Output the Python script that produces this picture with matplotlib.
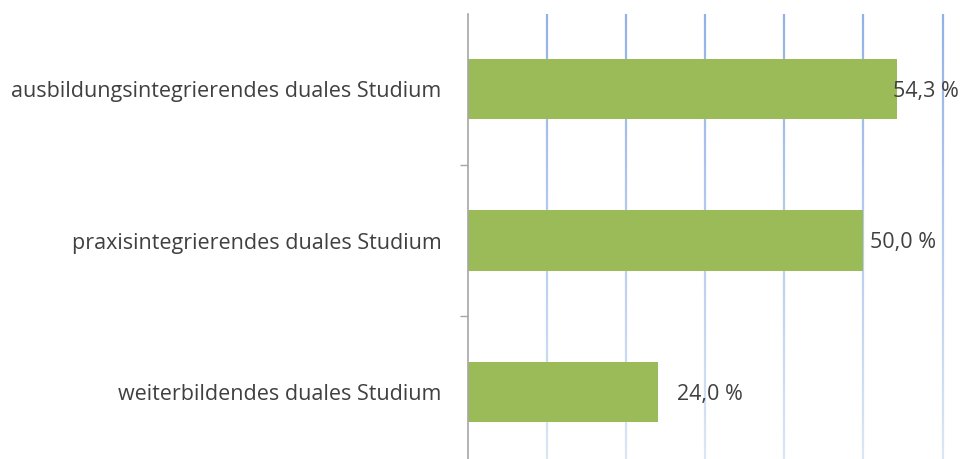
import matplotlib
matplotlib.use("Agg")
import matplotlib.pyplot as plt
import numpy as np
from matplotlib.collections import LineCollection
from matplotlib.colors import to_rgb

categories = ["ausbildungsintegrierendes duales Studium",
              "praxisintegrierendes duales Studium",
              "weiterbildendes duales Studium"]
values = [54.3, 50.0, 24.0]
value_labels = ["54,3 %", "50,0 %", "24,0 %"]
grid_ticks = [0, 10, 20, 30, 40, 50, 60]

# label x offsets in points (styling, as in the original)
label_offsets = [-3.5, 4.5, 14]

plt.rcParams['font.family'] = ['Open Sans', 'DejaVu Sans']
TEXT = '#404040'
FS = 15.5

fig = plt.figure(figsize=(9.62, 4.59), dpi=100)
ax = fig.add_axes([467.7/962, -8.75/459, (942.5-467.7)/962, (467.75-13.5)/459])

y = np.arange(len(categories))
ax.barh(y, values, height=0.4, color='#9BBB59', zorder=3)
ax.set_xlim(0, 60)
ax.set_ylim(len(categories) - 0.5, -0.5)

# gradient gridlines
top_c = np.array(to_rgb('#93B1E6'))
bot_c = np.array(to_rgb('#DDE7F6'))
n = 60
ys = np.linspace(-0.5, len(categories) - 0.5, n + 1)
for gx in grid_ticks[1:]:
    segs = [[(gx, ys[i]), (gx, ys[i + 1])] for i in range(n)]
    cols = [top_c + (bot_c - top_c) * (i / n) for i in range(n)]
    ax.add_collection(LineCollection(segs, colors=cols, linewidths=1.6,
                                     zorder=1, clip_on=False))

for s in ['top', 'right', 'bottom']:
    ax.spines[s].set_visible(False)
ax.spines['left'].set_color('#A6A6A6')
ax.spines['left'].set_linewidth(1.2)
ax.spines['left'].set_zorder(4)
ax.set_xticks([])
ax.set_yticks(y)
ax.set_yticklabels(categories, fontsize=FS, color=TEXT)
ax.tick_params(axis='y', which='major', length=0, pad=19)
ax.set_yticks(y[:-1] + 0.5, minor=True)
ax.tick_params(axis='y', which='minor', length=6, color='#A6A6A6', width=1)

for yi, v, lab, off in zip(y, values, value_labels, label_offsets):
    ax.annotate(lab, xy=(v, yi), xytext=(off, -1.5), textcoords='offset points',
                ha='left', va='center', fontsize=FS, color=TEXT, zorder=5)

fig.savefig('out.png', dpi=100)
